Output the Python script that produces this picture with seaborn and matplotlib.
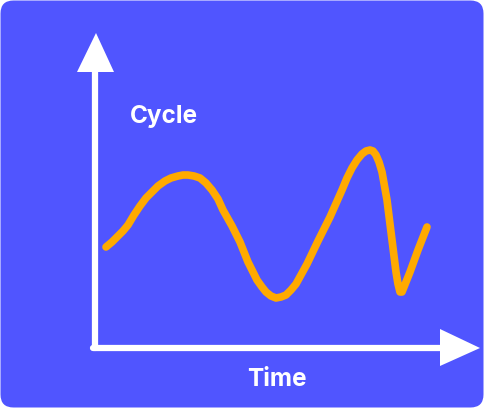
import numpy as np
import pandas as pd
import seaborn as sns
import matplotlib.pyplot as plt
from matplotlib.patches import FancyBboxPatch, Polygon

# curve (time, cycle value)
time = [11, 17, 23, 28, 33, 39, 45, 51, 57, 63, 70, 76, 83, 88, 93, 99, 105, 111,
        117, 123, 128, 137, 145, 153, 162, 167, 171, 176, 181, 186, 191, 196,
        201, 212, 223, 235, 247, 252, 257, 262, 267, 271, 275, 278, 281, 284,
        287, 292, 297, 301, 303, 305, 307, 309, 315, 323, 332]
cycle = [100, 105, 111, 116, 122, 132, 141, 149, 155, 161, 166, 169, 171, 172, 172,
         171, 169, 164, 157, 148, 137, 121, 105, 85, 67, 60, 55, 51, 49, 50, 52, 57,
         63, 83, 106, 130, 157, 169, 179, 187, 193, 196, 197, 196, 192, 185,
         175, 147, 107, 75, 63, 55, 55, 60, 75, 97, 120]

x_label = "Time"
y_label = "Cycle"

bg = "#5055FF"
orange = "#FFAA00"

df = pd.DataFrame({"time": time, "cycle": cycle})

sns.set_style("white")
plt.rcParams["font.family"] = ["Inter", "DejaVu Sans"]

fig = plt.figure(figsize=(4.84, 4.08), dpi=100)
fig.patch.set_facecolor("white")
ax = fig.add_axes([0, 0, 1, 1])
ax.set_xlim(-95, 389)
ax.set_ylim(-61, 347)
ax.axis("off")

# rounded card
card = FancyBboxPatch((-95 + 0.5, -61 + 0.5), 483, 407,
                      boxstyle="round,pad=0,rounding_size=13",
                      fc=bg, ec="none", zorder=0)
ax.add_patch(card)

# axes with arrow heads
ax.plot([0, 0], [-1, 276], color="white", lw=4.5, solid_capstyle="butt", zorder=2)
ax.plot([-2, 346], [-1, -1], color="white", lw=4.5, solid_capstyle="butt", zorder=2)
ax.add_patch(Polygon([[-18, 275], [19, 275], [1, 314]], closed=True, fc="white", ec="none", zorder=2))
ax.add_patch(Polygon([[345, 18], [345, -19], [385, -1]], closed=True, fc="white", ec="none", zorder=2))

sns.lineplot(data=df, x="time", y="cycle", ax=ax, color=orange, lw=5.5,
             sort=False, zorder=3)
for line in ax.lines:
    line.set_solid_capstyle("round")
    line.set_solid_joinstyle("round")

ax.text(69, 231, y_label, color="white", fontsize=17.5, fontweight="bold",
        ha="center", va="center")
ax.text(182, -32, x_label, color="white", fontsize=17.5, fontweight="bold",
        ha="center", va="center")

fig.savefig("out.png", dpi=100, facecolor="white")
